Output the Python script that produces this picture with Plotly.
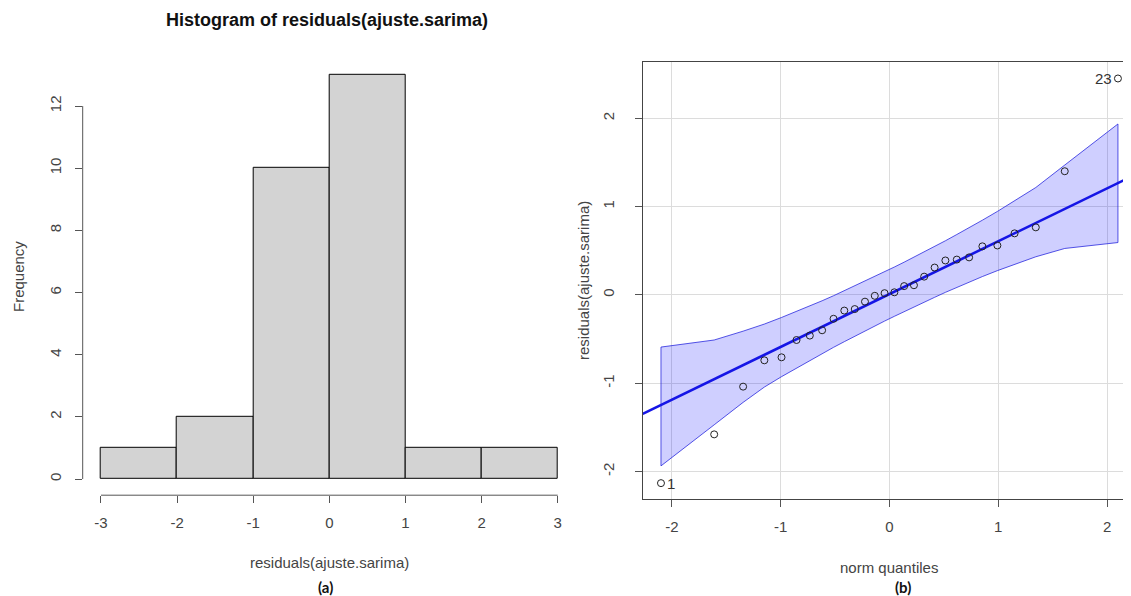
import plotly.graph_objects as go

# ---------------- data ----------------
# sorted residuals of ajuste.sarima (n = 28)
residuals = [-2.13, -1.578, -1.038, -0.74, -0.706, -0.51, -0.46, -0.40, -0.27, -0.177,
             -0.16, -0.076, -0.01, 0.02, 0.03, 0.10, 0.11, 0.207, 0.31, 0.39,
             0.40, 0.425, 0.55, 0.56, 0.697, 0.765, 1.40, 2.45]
# normal theoretical quantiles for the QQ plot
norm_q = [-2.100, -1.611, -1.345, -1.150, -0.992, -0.854, -0.732, -0.619, -0.514, -0.415,
          -0.319, -0.225, -0.135, -0.045, 0.045, 0.135, 0.225, 0.319, 0.415, 0.514,
          0.619, 0.732, 0.854, 0.992, 1.150, 1.345, 1.611, 2.100]
# confidence envelope (upper / lower) at each quantile
env_upper = [-0.59, -0.51, -0.41, -0.33, -0.255, -0.188, -0.126, -0.066, -0.009, 0.047,
             0.101, 0.155, 0.208, 0.261, 0.316, 0.371, 0.427, 0.487, 0.549, 0.613,
             0.684, 0.760, 0.846, 0.945, 1.063, 1.216, 1.470, 1.935]
env_lower = [-1.935, -1.470, -1.216, -1.043, -0.925, -0.826, -0.740, -0.664, -0.593, -0.529,
             -0.467, -0.407, -0.351, -0.296, -0.242, -0.188, -0.135, -0.081, -0.027, 0.029,
             0.086, 0.146, 0.208, 0.275, 0.349, 0.432, 0.526, 0.593]
# reference line of the QQ plot
ref_intercept = 0.01
ref_slope = 0.598
# labelled observations (index in sorted order -> label)
outlier_pos = [0, 27]
outlier_lab = ["1", "23"]
# histogram bins and tick labels
hist_start, hist_end, hist_size = -3, 3, 1
hist_xticks = [-3, -2, -1, 0, 1, 2, 3]
hist_xlabels = ["-3", "-2", "-1", "0", "1", "2", "3"]
hist_yticks = [0, 2, 4, 6, 8, 10, 12]
hist_ylabels = ["0", "2", "4", "6", "8", "10", "12"]
qq_ticks = [-2, -1, 0, 1, 2]
qq_labels = ["-2", "-1", "0", "1", "2"]

# page has an 8px body margin: the figure starts at (8, 8)
OFF = 8
W, H = 1131 - OFF, 596 - OFF
FONT = "Liberation Sans, Arial, sans-serif"
AX = "#555555"
TXT = "#444444"

def px(x):
    return (x - OFF) / W

def py(y):
    return 1 - (y - OFF) / H

fig = go.Figure()

# ---------------- (a) histogram ----------------
fig.add_trace(go.Histogram(
    x=residuals, xbins=dict(start=hist_start, end=hist_end, size=hist_size),
    marker=dict(color="#d3d3d3", line=dict(color="black", width=1)),
    xaxis="x", yaxis="y", showlegend=False, hoverinfo="skip"))

# ---------------- (b) QQ plot ----------------
x2_range = [-2.268, 2.22]
y2_range = [-2.313, 2.633]

fig.add_trace(go.Scatter(
    x=norm_q + norm_q[::-1] + [norm_q[0]],
    y=env_upper + env_lower[::-1] + [env_upper[0]],
    fill="toself", fillcolor="rgba(0,0,255,0.19)",
    line=dict(color="rgba(30,30,220,0.75)", width=1),
    mode="lines", xaxis="x2", yaxis="y2", showlegend=False, hoverinfo="skip"))

fig.add_trace(go.Scatter(
    x=x2_range, y=[ref_intercept + ref_slope * v for v in x2_range],
    mode="lines", line=dict(color="#1515e6", width=2.6),
    xaxis="x2", yaxis="y2", showlegend=False, hoverinfo="skip"))

fig.add_trace(go.Scatter(
    x=norm_q, y=residuals, mode="markers",
    marker=dict(symbol="circle-open", size=7, color="#222222", line=dict(width=1)),
    xaxis="x2", yaxis="y2", showlegend=False, hoverinfo="skip"))

tickfont = dict(family=FONT, size=15, color=TXT)

fig.update_layout(
    width=W, height=H, margin=dict(l=0, r=0, t=0, b=0),
    paper_bgcolor="white", plot_bgcolor="white", bargap=0,
    font=dict(family=FONT, color=TXT),
    xaxis=dict(domain=[px(82.7), px(576)], range=[-3.24, 3.24],
               tickvals=hist_xticks, ticktext=hist_xlabels,
               ticks="outside", ticklen=7, tickcolor=AX, showgrid=False, zeroline=False,
               showline=False, tickfont=tickfont, ticklabelstandoff=7),
    yaxis=dict(domain=[py(495.2), py(58.8)], range=[-0.52, 13.52],
               tickvals=hist_yticks, ticktext=hist_ylabels,
               ticks="outside", ticklen=7, tickcolor=AX, showgrid=False, zeroline=False,
               showline=False, tickfont=tickfont, tickangle=-90, ticklabelstandoff=8),
    xaxis2=dict(domain=[px(642.7), 1.0], range=x2_range, tickvals=qq_ticks, ticktext=qq_labels,
                anchor="y2",
                ticks="outside", ticklen=7, tickcolor=AX, showgrid=True, gridcolor="#dcdcdc",
                gridwidth=1, zeroline=False, showline=True, mirror=True, linecolor="#444444",
                tickfont=tickfont, ticklabelstandoff=7),
    yaxis2=dict(domain=[py(499.3), py(62.3)], range=y2_range, tickvals=qq_ticks, ticktext=qq_labels,
                anchor="x2",
                ticks="outside", ticklen=7, tickcolor=AX, showgrid=True, gridcolor="#dcdcdc",
                gridwidth=1, zeroline=False, showline=True, mirror=False, linecolor="#444444",
                tickfont=tickfont, tickangle=-90, ticklabelstandoff=15),
)

# R-style axis lines spanning only the tick range on the histogram
fig.add_shape(type="line", xref="x domain", yref="y", x0=0, x1=0,
              y0=hist_yticks[0], y1=hist_yticks[-1], line=dict(color=AX, width=1))
fig.add_shape(type="line", xref="x", yref="y domain", x0=hist_xticks[0], x1=hist_xticks[-1],
              y0=0, y1=0, line=dict(color=AX, width=1))

def label(text, x, y, size=15, family=FONT, color=TXT, angle=0):
    return dict(text=text, x=px(x), y=py(y), xref="paper", yref="paper", showarrow=False,
                xanchor="center", yanchor="middle", textangle=angle,
                font=dict(family=family, size=size, color=color))

ann = [
    label("<b>Histogram of residuals(ajuste.sarima)</b>", 327, 20, size=18, color="#111111"),
    label("Frequency", 18, 277, angle=-90),
    label("residuals(ajuste.sarima)", 329, 562),
    label("<b>(a)</b>", 325, 587, size=15, family="Lato, sans-serif", color="#111111"),
    label("residuals(ajuste.sarima)", 583, 281, angle=-90),
    label("norm quantiles", 889, 567),
    label("<b>(b)</b>", 903, 587, size=15, family="Lato, sans-serif", color="#111111"),
]
for i, lab in zip(outlier_pos, outlier_lab):
    left = norm_q[i] < 0
    ann.append(dict(text=lab, x=norm_q[i], y=residuals[i], xref="x2", yref="y2", showarrow=False,
                    xanchor="left" if left else "right", yanchor="middle",
                    xshift=4 if left else -4,
                    font=dict(family=FONT, size=15, color="#333333")))
fig.update_layout(annotations=ann)

fig.write_html("out.html")
